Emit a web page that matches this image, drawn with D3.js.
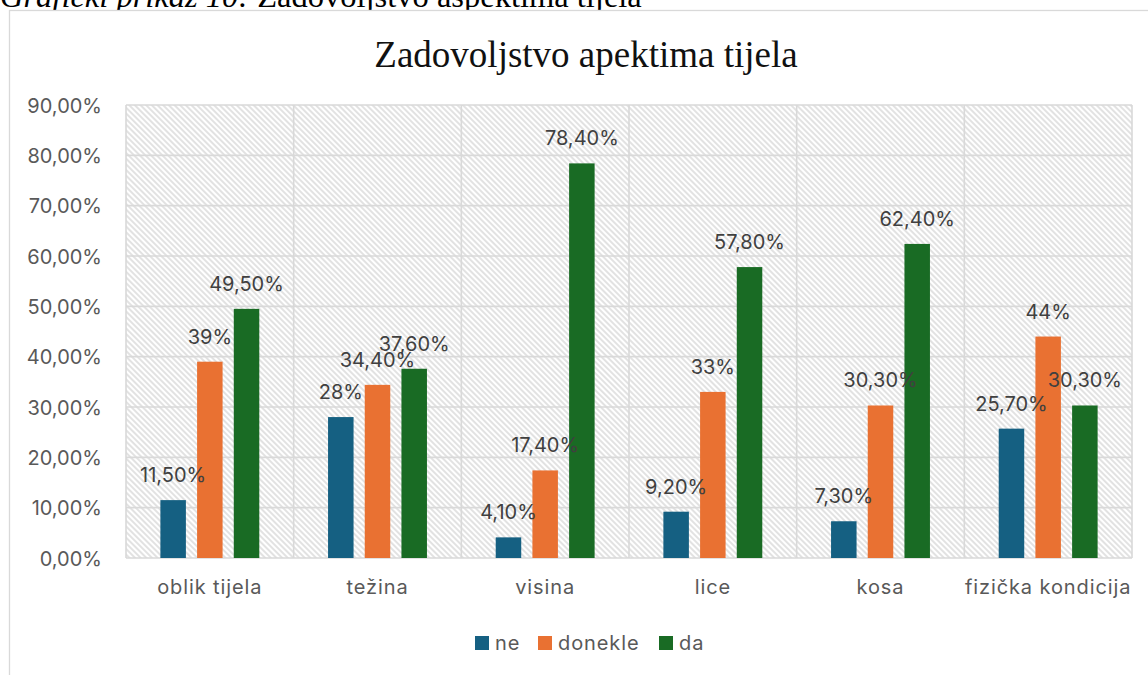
<!DOCTYPE html>
<html><head><meta charset="utf-8">
<script src="https://cdn.jsdelivr.net/npm/d3@7"></script>
<style>
html,body{margin:0;padding:0;background:#fff;overflow:hidden;}
svg{display:block;}
</style></head>
<body>
<svg id="chart" width="1148" height="675"></svg>
<script>
const categories = ["oblik tijela", "težina", "visina", "lice", "kosa", "fizička kondicija"];
const seriesNames = ["ne", "donekle", "da"];
const neValues = [0.115, 0.28, 0.041, 0.092, 0.073, 0.257];
const donekleValues = [0.39, 0.344, 0.174, 0.33, 0.303, 0.44];
const daValues = [0.495, 0.376, 0.784, 0.578, 0.624, 0.303];
const neLabels = ["11,50%", "28%", "4,10%", "9,20%", "7,30%", "25,70%"];
const donekleLabels = ["39%", "34,40%", "17,40%", "33%", "30,30%", "44%"];
const daLabels = ["49,50%", "37,60%", "78,40%", "57,80%", "62,40%", "30,30%"];
const yTicks = [0, 0.1, 0.2, 0.3, 0.4, 0.5, 0.6, 0.7, 0.8, 0.9];
const chartTitle = "Zadovoljstvo apektima tijela";
const captionItalic = "Grafički prikaz 10:";
const captionRest = " Zadovoljstvo aspektima tijela";

(function () {
const colors = {"ne": "#156082", "donekle": "#E97132", "da": "#196B24"};
const seriesValues = {"ne": neValues, "donekle": donekleValues, "da": daValues};
const seriesLabels = {"ne": neLabels, "donekle": donekleLabels, "da": daLabels};

const svg = d3.select("#chart");
const font = "Inter, 'Liberation Sans', sans-serif";
const textGray = "#595959";
const gridColor = "#d9d9d9";

const defs = svg.append("defs");
const pat = defs.append("pattern").attr("id", "hatch")
  .attr("patternUnits", "userSpaceOnUse").attr("width", 4).attr("height", 4)
  .attr("patternTransform", "rotate(-45)");
pat.append("rect").attr("width", 4).attr("height", 4).attr("fill", "#fff");
pat.append("line").attr("x1", 1).attr("y1", 0).attr("x2", 1).attr("y2", 4)
  .attr("stroke", "#d6d6d6").attr("stroke-width", 1.4);

const cap = svg.append("text").attr("x", 0).attr("y", 7)
  .attr("font-family", "'Liberation Serif', 'Times New Roman', serif")
  .attr("font-size", 32.5).attr("fill", "#000");
cap.append("tspan").attr("font-style", "italic").text(captionItalic);
cap.append("tspan").text(captionRest);

svg.append("rect").attr("x", 9.5).attr("y", 10.5).attr("width", 1150).attr("height", 680)
  .attr("fill", "#fff").attr("stroke", gridColor).attr("stroke-width", 1.3);

svg.append("text").attr("x", 586).attr("y", 67).attr("text-anchor", "middle")
  .attr("font-family", "'Liberation Serif', 'Times New Roman', serif")
  .attr("font-size", 37).attr("fill", "#111").text(chartTitle);

const pLeft = 126, pRight = 1132, pTop = 105, pBottom = 558;
const x0 = d3.scaleBand().domain(categories).range([pLeft, pRight]).padding(0);
const x1 = d3.scaleBand().domain(seriesNames).range([0, x0.bandwidth()])
  .paddingInner(0.305).paddingOuter(0.937);
const y = d3.scaleLinear().domain([0, 0.9]).range([pBottom, pTop]);

svg.append("rect").attr("x", pLeft).attr("y", pTop).attr("width", pRight - pLeft)
  .attr("height", pBottom - pTop).attr("fill", "url(#hatch)");

svg.append("g").selectAll("line").data(yTicks).join("line")
  .attr("x1", pLeft).attr("x2", pRight)
  .attr("y1", d => y(d)).attr("y2", d => y(d))
  .attr("stroke", gridColor).attr("stroke-width", 1.6);
const vlines = categories.map(c => x0(c)).concat([pRight]);
svg.append("g").selectAll("line").data(vlines).join("line")
  .attr("x1", d => d).attr("x2", d => d).attr("y1", pTop).attr("y2", pBottom)
  .attr("stroke", gridColor).attr("stroke-width", 1.6);

const yAxis = d3.axisLeft(y).tickValues(yTicks).tickSize(0).tickPadding(0)
  .tickFormat(d => (d * 100).toFixed(2).replace(".", ",") + "%");
const yg = svg.append("g").attr("transform", `translate(${102},0)`).call(yAxis);
yg.select(".domain").remove();
yg.selectAll("text").attr("font-family", font).attr("font-size", 20)
  .attr("fill", textGray).attr("dy", "0.35em");

const xAxis = d3.axisBottom(x0).tickSize(0).tickPadding(0);
const xg = svg.append("g").attr("transform", `translate(0,${580})`).call(xAxis);
xg.select(".domain").remove();
xg.selectAll("text").attr("font-family", font).attr("font-size", 20)
  .attr("letter-spacing", 0.9)
  .attr("fill", textGray).attr("dy", "0.71em");

const flat = [];
categories.forEach((c, i) => seriesNames.forEach(s => flat.push({
  cat: c, s: s, v: seriesValues[s][i], label: seriesLabels[s][i]
})));
svg.append("g").selectAll("rect").data(flat).join("rect")
  .attr("x", d => x0(d.cat) + x1(d.s)).attr("width", x1.bandwidth())
  .attr("y", d => y(d.v)).attr("height", d => y(0) - y(d.v))
  .attr("fill", d => colors[d.s]);

svg.append("g").selectAll("text").data(flat).join("text")
  .attr("x", d => x0(d.cat) + x1(d.s) + x1.bandwidth() / 2)
  .attr("y", d => y(d.v) - 18)
  .attr("text-anchor", "middle").attr("font-family", font).attr("font-size", 20)
  .attr("fill", "#404040").text(d => d.label);

const legend = svg.append("g").attr("transform", "translate(475,636)");
const legX = {"ne": 0, "donekle": 63, "da": 184};
seriesNames.forEach(s => {
  const g = legend.append("g").attr("transform", `translate(${legX[s]},0)`);
  g.append("rect").attr("width", 14).attr("height", 14).attr("fill", colors[s]);
  g.append("text").attr("x", 20).attr("y", 7).attr("dy", "0.35em")
    .attr("font-family", font).attr("font-size", 20).attr("letter-spacing", 0.9)
    .attr("fill", textGray).text(s);
});
})();
</script>
</body></html>
